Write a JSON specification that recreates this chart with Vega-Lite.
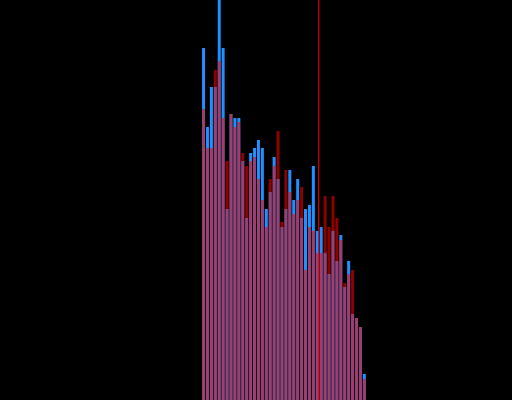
{
  "$schema": "https://vega.github.io/schema/vega-lite/v6.json",
  "autosize": {"type": "none"},
  "width": 512,
  "height": 400,
  "padding": 0,
  "background": "#000000",
  "config": {"view": {"stroke": null}},
  "datasets": {
    "hist": [
      {"bin": 0, "blue": 352, "red": 291},
      {"bin": 1, "blue": 273, "red": 252},
      {"bin": 2, "blue": 313, "red": 252},
      {"bin": 3, "blue": 313, "red": 330},
      {"bin": 4, "blue": 400, "red": 339},
      {"bin": 5, "blue": 352, "red": 282},
      {"bin": 6, "blue": 191, "red": 239},
      {"bin": 7, "blue": 286, "red": 286},
      {"bin": 8, "blue": 282, "red": 273},
      {"bin": 9, "blue": 282, "red": 278},
      {"bin": 10, "blue": 239, "red": 247},
      {"bin": 11, "blue": 182, "red": 234},
      {"bin": 12, "blue": 247, "red": 239},
      {"bin": 13, "blue": 252, "red": 243},
      {"bin": 14, "blue": 260, "red": 221},
      {"bin": 15, "blue": 252, "red": 200},
      {"bin": 16, "blue": 191, "red": 173},
      {"bin": 17, "blue": 208, "red": 221},
      {"bin": 18, "blue": 243, "red": 234},
      {"bin": 19, "blue": 221, "red": 269},
      {"bin": 20, "blue": 173, "red": 178},
      {"bin": 21, "blue": 191, "red": 230},
      {"bin": 22, "blue": 230, "red": 208},
      {"bin": 23, "blue": 200, "red": 186},
      {"bin": 24, "blue": 221, "red": 200},
      {"bin": 25, "blue": 182, "red": 213},
      {"bin": 26, "blue": 191, "red": 130},
      {"bin": 27, "blue": 195, "red": 173},
      {"bin": 28, "blue": 234, "red": 169},
      {"bin": 29, "blue": 169, "red": 147},
      {"bin": 30, "blue": 173, "red": 147},
      {"bin": 31, "blue": 147, "red": 204},
      {"bin": 32, "blue": 126, "red": 173},
      {"bin": 33, "blue": 169, "red": 204},
      {"bin": 34, "blue": 139, "red": 182},
      {"bin": 35, "blue": 165, "red": 160},
      {"bin": 36, "blue": 113, "red": 117},
      {"bin": 37, "blue": 139, "red": 126},
      {"bin": 38, "blue": 86, "red": 130},
      {"bin": 39, "blue": 82, "red": 82},
      {"bin": 40, "blue": 73, "red": 73},
      {"bin": 41, "blue": 26, "red": 21}
    ],
    "marker": [{"value": 29.375}]
  },
  "layer": [
    {
      "data": {"name": "hist"},
      "mark": {"type": "bar", "width": 3, "color": "#1e90ff"},
      "encoding": {
        "x": {"field": "bin", "type": "quantitative", "scale": {"domain": [-50.625, 77.375], "nice": false, "zero": false}, "axis": null},
        "y": {"field": "blue", "type": "quantitative", "scale": {"domain": [0, 400], "nice": false}, "axis": null}
      }
    },
    {
      "data": {"name": "hist"},
      "mark": {"type": "bar", "width": 3, "color": "#ff0000", "opacity": 0.56},
      "encoding": {
        "x": {"field": "bin", "type": "quantitative"},
        "y": {"field": "red", "type": "quantitative"}
      }
    },
    {
      "data": {"name": "marker"},
      "mark": {"type": "rule", "color": "#ff0000", "strokeWidth": 1},
      "encoding": {
        "x": {"field": "value", "type": "quantitative"}
      }
    }
  ]
}
